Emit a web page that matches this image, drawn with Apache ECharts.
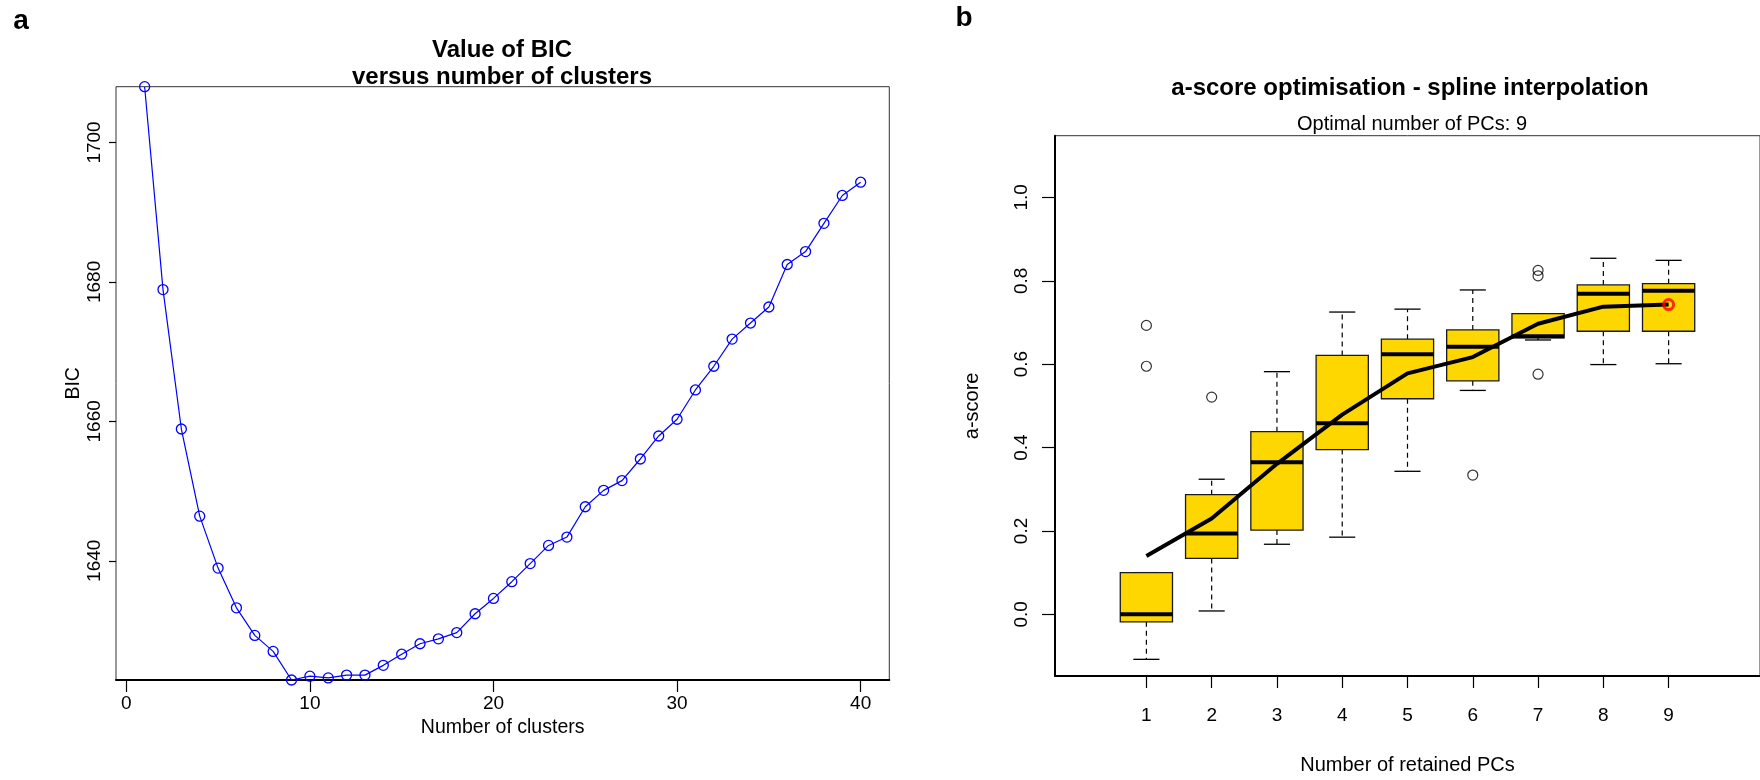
<!DOCTYPE html>
<html><head><meta charset="utf-8">
<script src="https://cdn.jsdelivr.net/npm/echarts@6/dist/echarts.min.js"></script>
<style>html,body{margin:0;padding:0;background:#fff}#c{width:1760px;height:780px}</style>
</head><body><div id="c"></div>
<script>
// ---------- panel a : BIC vs number of clusters ----------
const clusters = [1,2,3,4,5,6,7,8,9,10,11,12,13,14,15,16,17,18,19,20,21,22,23,24,25,26,27,28,29,30,31,32,33,34,35,36,37,38,39,40];
const bic = [1708.0,1678.9,1658.9,1646.4,1638.95,1633.25,1629.3,1627.0,1622.9,1623.45,
             1623.2,1623.6,1623.6,1625.0,1626.6,1628.1,1628.8,1629.7,1632.4,1634.6,
             1637.0,1639.6,1642.2,1643.4,1647.75,1650.1,1651.5,1654.6,1657.9,1660.3,
             1664.5,1667.9,1671.8,1674.1,1676.4,1682.5,1684.35,1688.4,1692.4,1694.3];
const bicXTicks = [0,10,20,30,40];
const bicYTicks = [1640,1660,1680,1700];

// ---------- panel b : a-score optimisation ----------
const pcs        = [1,2,3,4,5,6,7,8,9];
const whiskerLow = [-0.108,0.008,0.168,0.185,0.343,0.537,0.658,0.599,0.601];
const quart1     = [-0.018,0.134,0.202,0.395,0.517,0.560,0.663,0.679,0.679];
const medians    = [0.000,0.194,0.365,0.458,0.624,0.642,0.667,0.769,0.776];
const quart3     = [0.100,0.287,0.438,0.621,0.660,0.682,0.721,0.790,0.793];
const whiskerHigh= [0.100,0.324,0.582,0.725,0.732,0.778,0.721,0.854,0.849];
const outlierPC    = [1,1,2,6,7,7,7];
const outlierScore = [0.693,0.595,0.521,0.334,0.825,0.812,0.576];
const splineScore  = [0.140,0.230,0.361,0.479,0.578,0.617,0.697,0.738,0.743];
const optimalPC = 9;
const pcTicks = [1,2,3,4,5,6,7,8,9];
const scoreTicks = [0.0,0.2,0.4,0.6,0.8,1.0];

const FONT = '"Liberation Sans", Arial, Helvetica, sans-serif';
const chart = echarts.init(document.getElementById('c'), null, {renderer:'canvas'});

const boxData = pcs.map((p,i)=>[p, whiskerLow[i], quart1[i], medians[i], quart3[i], whiskerHigh[i]]);

function renderBox(params, api){
  const x = api.value(0);
  const lo = api.coord([x, api.value(1)]);
  const q1 = api.coord([x, api.value(2)]);
  const md = api.coord([x, api.value(3)]);
  const q3 = api.coord([x, api.value(4)]);
  const hi = api.coord([x, api.value(5)]);
  const w = api.size([0.8, 0])[0];
  const cx = q1[0], half = w/2, cap = w/4;
  const dash = {stroke:'#000', lineWidth:1.2, lineDash:[5,4]};
  const solid = {stroke:'#000', lineWidth:1.3};
  return {type:'group', children:[
    {type:'line', shape:{x1:cx,y1:q3[1],x2:cx,y2:hi[1]}, style:dash},
    {type:'line', shape:{x1:cx,y1:q1[1],x2:cx,y2:lo[1]}, style:dash},
    {type:'line', shape:{x1:cx-cap,y1:hi[1],x2:cx+cap,y2:hi[1]}, style:solid},
    {type:'line', shape:{x1:cx-cap,y1:lo[1],x2:cx+cap,y2:lo[1]}, style:solid},
    {type:'rect', shape:{x:cx-half,y:q3[1],width:w,height:q1[1]-q3[1]}, style:{fill:'#FFD700', stroke:'#1a1a1a', lineWidth:1.3}},
    {type:'line', shape:{x1:cx-half,y1:md[1],x2:cx+half,y2:md[1]}, style:{stroke:'#000', lineWidth:4}}
  ]};
}

const axisText = {color:'#000', fontFamily:FONT, fontSize:19};
const nameText = {color:'#000', fontFamily:FONT, fontSize:19.5};

const option = {
  animation:false,
  backgroundColor:'#fff',
  title:[
    {text:'a', left:21, top:21, padding:0, textAlign:'center', textVerticalAlign:'middle',
     textStyle:{fontFamily:FONT, fontWeight:'bold', fontSize:28, color:'#000'}},
    {text:'b', left:964, top:18, padding:0, textAlign:'center', textVerticalAlign:'middle',
     textStyle:{fontFamily:FONT, fontWeight:'bold', fontSize:28, color:'#000'}},
    {text:'Value of BIC', left:502, top:50, padding:0, textAlign:'center', textVerticalAlign:'middle',
     textStyle:{fontFamily:FONT, fontWeight:'bold', fontSize:24, color:'#000'}},
    {text:'versus number of clusters', left:502, top:77, padding:0, textAlign:'center', textVerticalAlign:'middle',
     textStyle:{fontFamily:FONT, fontWeight:'bold', fontSize:24, color:'#000'}},
    {text:'a-score optimisation - spline interpolation', left:1410, top:88, padding:0, textAlign:'center', textVerticalAlign:'middle',
     textStyle:{fontFamily:FONT, fontWeight:'bold', fontSize:24, color:'#000'}},
    {text:'Optimal number of PCs: ' + optimalPC, left:1412, top:124, padding:0, textAlign:'center', textVerticalAlign:'middle',
     textStyle:{fontFamily:FONT, fontWeight:'normal', fontSize:20, color:'#000'}}
  ],
  grid:[
    {left:116, top:86.7, width:773.3, height:593.3, show:true, borderColor:'#333', borderWidth:1, backgroundColor:'rgba(0,0,0,0)'},
    {left:1055, top:135.7, width:707, height:544.3, show:true, borderColor:'#333', borderWidth:1, backgroundColor:'rgba(0,0,0,0)'}
  ],
  xAxis:[
    {gridIndex:0, type:'value', min:-0.56, max:41.56,
     axisLine:{show:true, onZero:false, lineStyle:{color:'#000', width:2}},
     axisTick:{show:true, length:12, customValues:bicXTicks, lineStyle:{color:'#000', width:1.2}},
     axisLabel:{show:true, customValues:bicXTicks, margin:14, ...axisText},
     splitLine:{show:false},
     name:'Number of clusters', nameLocation:'middle', nameGap:33, nameTextStyle:nameText},
    {gridIndex:1, type:'value', min:-0.4, max:10.4,
     axisLine:{show:true, onZero:false, lineStyle:{color:'#000', width:2}},
     axisTick:{show:true, length:12, customValues:pcTicks, lineStyle:{color:'#000', width:1.2}},
     axisLabel:{show:true, customValues:pcTicks, margin:30, ...axisText},
     splitLine:{show:false},
     name:'Number of retained PCs', nameLocation:'middle', nameGap:79, nameTextStyle:{...nameText, fontSize:20}}
  ],
  yAxis:[
    {gridIndex:0, type:'value', min:Math.min(...bic), max:Math.max(...bic),
     axisLine:{show:false, onZero:false},
     axisTick:{show:true, length:7, customValues:bicYTicks, lineStyle:{color:'#000', width:1.2}},
     axisLabel:{show:true, rotate:90, customValues:bicYTicks, margin:12, formatter:v=>String(Math.round(v)), ...axisText},
     splitLine:{show:false},
     name:'BIC', nameLocation:'middle', nameGap:31, nameTextStyle:nameText},
    {gridIndex:1, type:'value', min:-0.148, max:1.148,
     axisLine:{show:true, onZero:false, lineStyle:{color:'#000', width:2}},
     axisTick:{show:true, length:13, customValues:scoreTicks, lineStyle:{color:'#000', width:1.2}},
     axisLabel:{show:true, rotate:90, customValues:scoreTicks, margin:24, formatter:v=>Number(v).toFixed(1), ...axisText},
     splitLine:{show:false},
     name:'a-score', nameLocation:'middle', nameGap:73, nameTextStyle:{...nameText, fontSize:20}}
  ],
  series:[
    {type:'line', xAxisIndex:0, yAxisIndex:0,
     data:clusters.map((c,i)=>[c,bic[i]]),
     symbol:'circle', symbolSize:10, showSymbol:true,
     lineStyle:{color:'#0000ff', width:1.2},
     itemStyle:{color:'rgba(0,0,0,0)', borderColor:'#0000ff', borderWidth:1.3},
     z:3},
    {type:'custom', xAxisIndex:1, yAxisIndex:1, data:boxData,
     encode:{x:0, y:[1,2,3,4,5]}, renderItem:renderBox, z:2},
    {type:'line', xAxisIndex:1, yAxisIndex:1,
     data:pcs.map((p,i)=>[p, splineScore[i]]),
     symbol:'none', lineStyle:{color:'#000', width:4}, z:4},
    {type:'scatter', xAxisIndex:1, yAxisIndex:1,
     data:outlierPC.map((p,i)=>[p, outlierScore[i]]),
     symbol:'circle', symbolSize:10,
     itemStyle:{color:'rgba(0,0,0,0)', borderColor:'#000', borderWidth:1.2}, z:5},
    {type:'scatter', xAxisIndex:1, yAxisIndex:1,
     data:[[optimalPC, splineScore[pcs.indexOf(optimalPC)]]],
     symbol:'circle', symbolSize:10,
     itemStyle:{color:'rgba(0,0,0,0)', borderColor:'#ff0000', borderWidth:3}, z:6}
  ]
};
chart.setOption(option);
</script>
</body></html>
